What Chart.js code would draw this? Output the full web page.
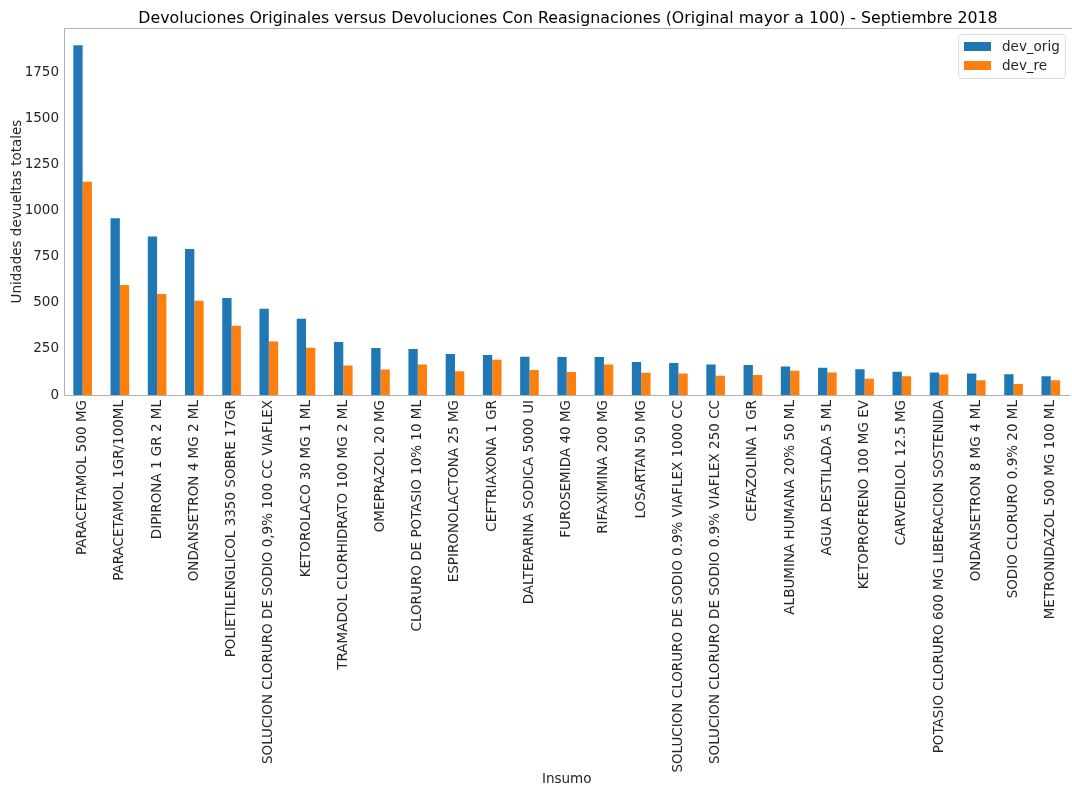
<!DOCTYPE html>
<html>
<head>
<meta charset="utf-8">
<title>Devoluciones Septiembre 2018</title>
<script src="https://cdn.jsdelivr.net/npm/chart.js@4"></script>
<style>
  html, body { margin: 0; padding: 0; background: #fff; }
  #wrap { width: 1072px; height: 790px; }
</style>
</head>
<body>
<div id="wrap"><canvas id="devChart" width="1072" height="790"></canvas></div>
<script>
// insumos con mas de 100 devoluciones originales
const insumos = [
  "PARACETAMOL 500 MG",
  "PARACETAMOL 1GR/100ML",
  "DIPIRONA 1 GR 2 ML",
  "ONDANSETRON 4 MG 2 ML",
  "POLIETILENGLICOL 3350 SOBRE 17GR",
  "SOLUCION CLORURO DE SODIO 0,9% 100 CC VIAFLEX",
  "KETOROLACO 30 MG 1 ML",
  "TRAMADOL CLORHIDRATO 100 MG 2 ML",
  "OMEPRAZOL 20 MG",
  "CLORURO DE POTASIO 10% 10 ML",
  "ESPIRONOLACTONA 25 MG",
  "CEFTRIAXONA 1 GR",
  "DALTEPARINA SODICA 5000 UI",
  "FUROSEMIDA 40 MG",
  "RIFAXIMINA 200 MG",
  "LOSARTAN 50 MG",
  "SOLUCION CLORURO DE SODIO 0.9% VIAFLEX 1000 CC",
  "SOLUCION CLORURO DE SODIO 0.9% VIAFLEX 250 CC",
  "CEFAZOLINA 1 GR",
  "ALBUMINA HUMANA 20% 50 ML",
  "AGUA DESTILADA 5 ML",
  "KETOPROFRENO 100 MG EV",
  "CARVEDILOL 12.5 MG",
  "POTASIO CLORURO 600 MG LIBERACION SOSTENIDA",
  "ONDANSETRON 8 MG 4 ML",
  "SODIO CLORURO 0.9% 20 ML",
  "METRONIDAZOL 500 MG 100 ML"
];

const devOrig = [1896, 958, 859, 791, 526, 468, 413, 288, 255, 250, 222, 217, 208, 206,
                 206, 179, 174, 165, 163, 155, 148, 139, 126, 122, 117, 112, 101];
const devRe = [1156, 596, 548, 511, 375, 290, 256, 160, 138, 165, 129, 191, 136, 125,
               165, 121, 116, 105, 109, 132, 122, 88, 101, 111, 80, 59, 80];

const yTicks = [0, 250, 500, 750, 1000, 1250, 1500, 1750];

const FONT = "'DejaVu Sans', sans-serif";
const AXIS_GRAY = "#b0b0b0";
const TEXT = "#262626";

// linea superior del marco, leyenda con borde y titulo
const frameAndLegend = {
  id: "frameAndLegend",
  afterDatasetsDraw(chart) {
    const { ctx, chartArea: a } = chart;
    ctx.save();
    ctx.strokeStyle = AXIS_GRAY;
    ctx.lineWidth = 1;
    const top = Math.round(a.top) + 0.5;
    ctx.beginPath();
    ctx.moveTo(a.left, top);
    ctx.lineTo(chart.width, top);
    ctx.stroke();

    // leyenda arriba a la derecha
    const bx = 958, by = 34, bw = 107, bh = 44;
    ctx.fillStyle = "rgba(255,255,255,0.8)";
    ctx.strokeStyle = "#dddddd";
    ctx.beginPath();
    ctx.roundRect(bx + 0.5, by + 0.5, bw, bh, 3);
    ctx.fill();
    ctx.stroke();
    ctx.font = "13.5px " + FONT;
    ctx.textBaseline = "middle";
    chart.data.datasets.forEach((ds, i) => {
      const y = by + 12 + i * 19;
      ctx.fillStyle = ds.backgroundColor;
      ctx.fillRect(bx + 6, y - 4, 27, 9);
      ctx.fillStyle = TEXT;
      ctx.fillText(ds.label, bx + 44, y + 1);
    });
    ctx.restore();
  },
  afterDraw(chart) {
    const { ctx } = chart;
    ctx.save();
    ctx.fillStyle = "#000";
    ctx.font = "15.8px " + FONT;
    ctx.textAlign = "center";
    ctx.textBaseline = "middle";
    ctx.fillText("Devoluciones Originales versus Devoluciones Con Reasignaciones (Original mayor a 100) - Septiembre 2018", 568, 19);
    ctx.restore();
  }
};

new Chart(document.getElementById("devChart"), {
  type: "bar",
  data: {
    labels: insumos,
    datasets: [
      { label: "dev_orig", data: devOrig, backgroundColor: "#1f77b4" },
      { label: "dev_re", data: devRe, backgroundColor: "#ff7f0e" }
    ]
  },
  options: {
    responsive: false,
    animation: false,
    layout: { padding: { top: 28, right: 1, left: 0, bottom: 0 } },
    datasets: { bar: { categoryPercentage: 0.5, barPercentage: 1.0 } },
    plugins: {
      legend: { display: false },
      tooltip: { enabled: false }
    },
    scales: {
      x: {
        grid: { display: false, drawTicks: false },
        border: { color: AXIS_GRAY },
        ticks: {
          autoSkip: false,
          minRotation: 90,
          maxRotation: 90,
          padding: 5,
          color: TEXT,
          font: { family: FONT, size: 13.5 }
        },
        title: {
          display: true,
          text: "Insumo",
          color: TEXT,
          font: { family: FONT, size: 13.5 },
          padding: { top: 0, bottom: 2 }
        },
        afterFit(scale) { scale.height = 395; }
      },
      y: {
        min: 0,
        max: 1990,
        grid: { display: false, drawTicks: false },
        border: { color: AXIS_GRAY },
        afterBuildTicks(scale) { scale.ticks = yTicks.map(v => ({ value: v })); },
        ticks: {
          padding: 5,
          color: TEXT,
          font: { family: FONT, size: 13.5 },
          callback: v => String(v)
        },
        title: {
          display: true,
          text: "Unidades devueltas totales",
          color: TEXT,
          font: { family: FONT, size: 13.5 },
          padding: { top: 9, bottom: 0 }
        },
        afterFit(scale) { scale.width = 64; }
      }
    }
  },
  plugins: [frameAndLegend]
});
</script>
</body>
</html>
